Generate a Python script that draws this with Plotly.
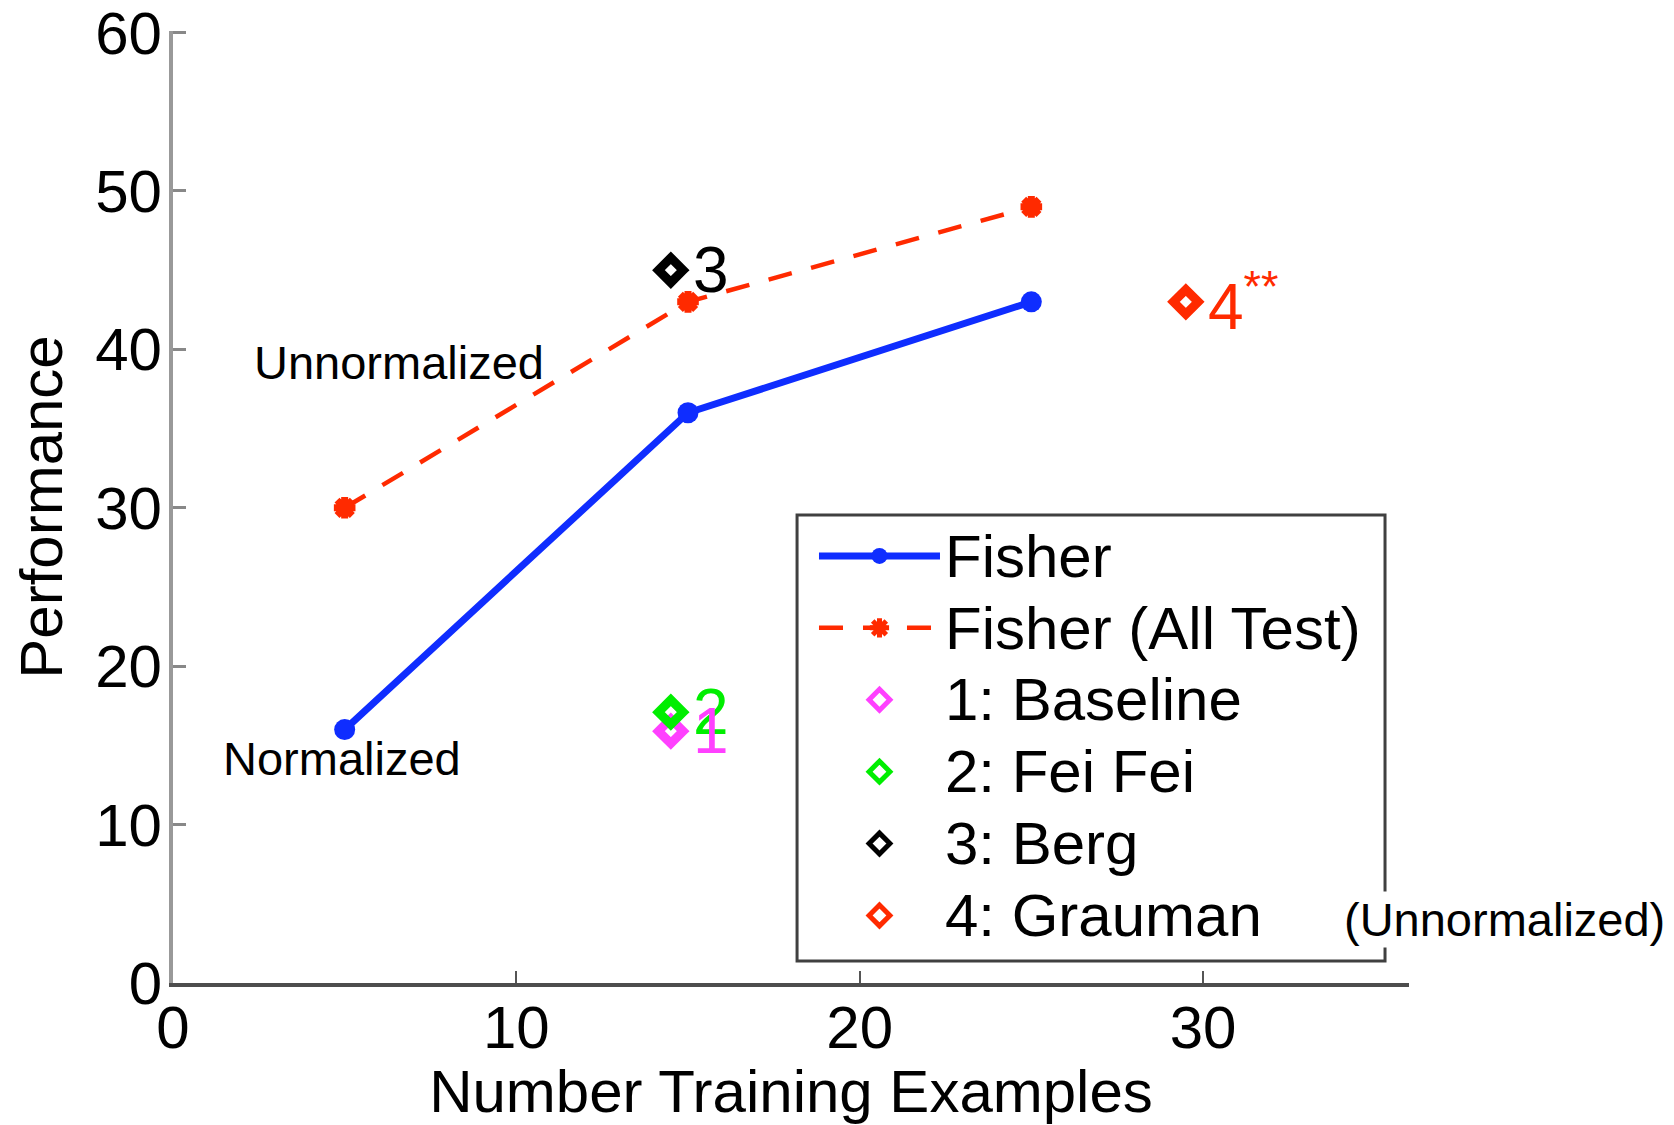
import plotly.graph_objects as go

# ---------------- data ----------------
n_train = [5, 15, 25]
fisher = [16, 36, 43]
fisher_all_test = [30, 43, 49]

method_names = ["1: Baseline", "2: Fei Fei", "3: Berg", "4: Grauman"]
method_labels = ["1", "2", "3", "4<sup>**</sup>"]
method_x = [14.5, 14.5, 14.5, 29.5]
method_y = [15.9, 17.1, 45.0, 43.0]
method_colors = ["#ff40ff", "#00ee00", "#000000", "#ff2a00"]

note_texts = ["Unnormalized", "Normalized", "(Unnormalized)"]
note_x = [2.3, 1.4, 34.05]
note_y = [39.2, 14.2, 4.0]

x_ticks = [0, 10, 20, 30]
y_ticks = [0, 10, 20, 30, 40, 50, 60]

FONT = "Liberation Sans, Arial, Helvetica, sans-serif"
BLUE = "#0f2dff"
RED = "#ff2a00"


def leg(name):
    return '<span style="font-size:60px">' + name + '</span>'


fig = go.Figure()

fig.add_trace(go.Scatter(
    x=n_train, y=fisher, mode="lines+markers", name=leg("Fisher"),
    line=dict(color=BLUE, width=7),
    marker=dict(symbol="circle", size=21, color=BLUE),
))
fig.add_trace(go.Scatter(
    x=n_train, y=fisher_all_test, mode="lines+markers", name=leg("Fisher (All Test)"),
    line=dict(color=RED, width=4.5, dash="24px,20px"),
    marker=dict(symbol="asterisk-open", size=18, color=RED, line=dict(width=7, color=RED)),
))
for name, xv, yv, col in zip(method_names, method_x, method_y, method_colors):
    fig.add_trace(go.Scatter(
        x=[xv], y=[yv], mode="markers", name=leg(name),
        marker=dict(symbol="diamond-open", size=19, color=col, line=dict(width=9, color=col)),
    ))

annotations = []
for lab, xv, yv, col in reversed(list(zip(method_labels, method_x, method_y, method_colors))):
    annotations.append(dict(
        x=xv, y=yv, xref="x", yref="y", text=lab, showarrow=False,
        xanchor="left", yanchor="middle", xshift=20,
        font=dict(family=FONT, size=64, color=col),
    ))
for txt, xv, yv in zip(note_texts, note_x, note_y):
    annotations.append(dict(
        x=xv, y=yv, xref="x", yref="y", text=txt, showarrow=False,
        xanchor="left", yanchor="middle",
        font=dict(family=FONT, size=47, color="black"),
        bgcolor="white" if txt.startswith("(") else "rgba(0,0,0,0)",
    ))

# legend frame (drawn as a shape so the side note can sit over its edge)
shapes = [dict(
    type="rect", xref="paper", yref="paper",
    x0=0.5049, x1=0.9806, y0=0.0231, y1=0.4916,
    line=dict(color="#404040", width=3), fillcolor="rgba(0,0,0,0)", layer="above",
)]

fig.update_layout(
    width=1674, height=1125,
    margin=dict(l=173, r=265, t=31, b=142, pad=0),
    paper_bgcolor="white", plot_bgcolor="white",
    font=dict(family=FONT, size=60, color="black"),
    showlegend=True,
    legend=dict(
        x=0.5186, y=0.4916, xanchor="left", yanchor="top",
        bordercolor="#404040", borderwidth=0, bgcolor="rgba(0,0,0,0)",
        font=dict(family=FONT, size=53, color="black"),
        itemwidth=121, tracegroupgap=0,
    ),
    shapes=shapes,
    annotations=annotations,
    xaxis=dict(
        range=[0, 36], tickmode="array", tickvals=x_ticks,
        ticks="inside", ticklen=12, tickwidth=2, tickcolor="#555555",
        showline=True, linecolor="#4d4d4d", linewidth=4,
        showgrid=False, zeroline=False, automargin=False,
        ticklabelstandoff=-11, ticklabeloverflow="allow",
        tickfont=dict(family=FONT, size=60, color="black"),
        title=dict(text="Number Training Examples", standoff=20,
                   font=dict(family=FONT, size=60, color="black")),
    ),
    yaxis=dict(
        range=[0, 60.1], tickmode="array", tickvals=y_ticks,
        ticks="inside", ticklen=13, tickwidth=3, tickcolor="#888888",
        showline=True, linecolor="#999999", linewidth=4,
        showgrid=False, zeroline=False, automargin=False,
        ticklabelstandoff=-5, ticklabeloverflow="allow",
        tickfont=dict(family=FONT, size=60, color="black"),
        title=dict(text="Performance", standoff=14,
                   font=dict(family=FONT, size=60, color="black")),
    ),
)

fig.write_html("out.html")
